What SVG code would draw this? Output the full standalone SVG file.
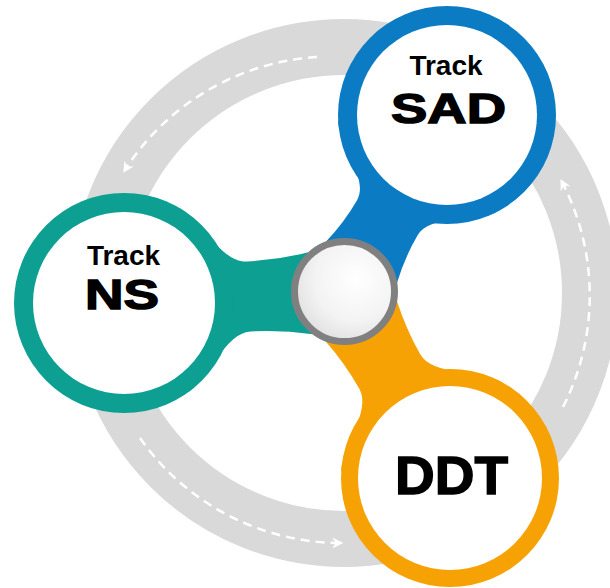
<svg xmlns="http://www.w3.org/2000/svg" width="610" height="588" viewBox="0 0 610 588">
<defs>
<style>
.lbl{font-family:"Liberation Sans",Arial,sans-serif;font-weight:bold;fill:#000}
.small{font-size:28px}
.big{stroke:#000;stroke-width:1.4}
.dash{fill:none;stroke:#fff;stroke-width:2.5;stroke-dasharray:9 6;marker-end:url(#ah)}
.inner{fill:#fff}
</style>
<marker id="ah" viewBox="0 0 10 10" refX="7" refY="5" markerWidth="11" markerHeight="11" markerUnits="userSpaceOnUse" orient="auto">
<path d="M0,0 L10,5 L0,10 L3,5 Z" fill="#fff"/>
</marker>
<radialGradient id="hubfill" cx="0.62" cy="0.38" r="0.7">
<stop offset="0" stop-color="#ffffff"/>
<stop offset="0.6" stop-color="#f3f3f3"/>
<stop offset="1" stop-color="#dedede"/>
</radialGradient>
</defs>
<rect width="610" height="588" fill="#fff"/>
<g id="cycle-ring">
<circle cx="344" cy="293" r="246" fill="none" stroke="#d9d9d9" stroke-width="56"/>
<path class="dash" d="M317,57 A246,246 0 0 0 125,170"/>
<path class="dash" d="M563,407 A246,246 0 0 0 562,182"/>
<path class="dash" d="M140,438 A246,246 0 0 0 340,543"/>
</g>
<g id="connectors">
<path fill="#0e9f93" transform="translate(344.5,291.5) rotate(177)" d="M34,-41 Q65,-35 96,-35 C121,-35 139.8,-78.7 160.8,-92.3 L220.8,0 L160.8,92.3 C139.8,78.7 121,35 96,35 Q65,35 34,41 L0,0 Z"/>
<path fill="#0b7cc4" transform="translate(344.5,291.5) rotate(-59.86)" d="M34,-41 Q59.5,-35 85,-35 C110,-35 123.7,-77.9 144.7,-91.5 L204.1,0 L144.7,91.5 C123.7,77.9 110,35 85,35 Q59.5,35 34,41 L0,0 Z"/>
<path fill="#f6a204" transform="translate(344.5,291.5) rotate(60.5)" d="M34,-41 Q63,-35 92,-35 C117,-35 133.9,-77.9 154.9,-91.5 L214.3,0 L154.9,91.5 C133.9,77.9 117,35 92,35 Q63,35 34,41 L0,0 Z"/>
</g>
<g id="node-sad">
<circle cx="447" cy="115" r="109" fill="#0b7cc4"/>
<circle class="inner" cx="447" cy="115" r="90"/>
<text class="lbl small" x="446" y="75" text-anchor="middle">Track</text>
<text class="lbl big" x="391" y="123" font-size="42" textLength="115" lengthAdjust="spacingAndGlyphs">SAD</text>
</g>
<g id="node-ns">
<circle cx="124" cy="303" r="110" fill="#0e9f93"/>
<circle class="inner" cx="124" cy="303" r="91"/>
<text class="lbl small" x="123.5" y="265" text-anchor="middle">Track</text>
<text class="lbl big" x="85" y="309" font-size="42" textLength="74" lengthAdjust="spacingAndGlyphs">NS</text>
</g>
<g id="node-ddt">
<circle cx="450" cy="478" r="109" fill="#f6a204"/>
<circle class="inner" cx="450" cy="478" r="92"/>
<text class="lbl big" x="395" y="494" font-size="54" textLength="113" lengthAdjust="spacingAndGlyphs">DDT</text>
</g>
<g id="node-hub">
<circle cx="344.5" cy="291.5" r="50" fill="url(#hubfill)" stroke="#808080" stroke-width="7"/>
</g>
</svg>
